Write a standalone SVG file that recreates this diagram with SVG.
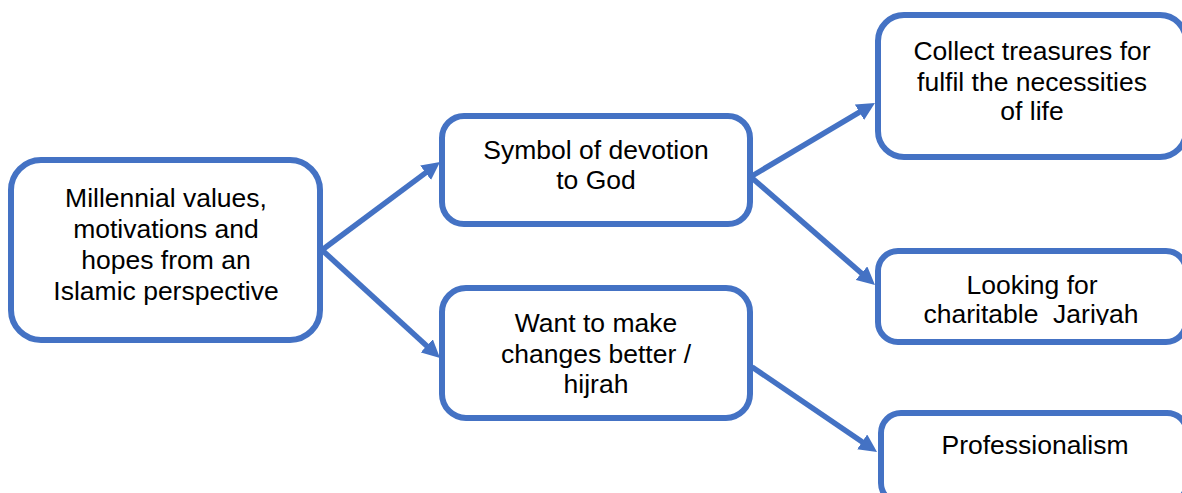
<svg xmlns="http://www.w3.org/2000/svg" width="1182" height="493" viewBox="0 0 1182 493">
<style>
.box{fill:#fff;stroke:#4472C4;stroke-width:6}
.lbl{font-family:"Liberation Sans",Arial,sans-serif;font-size:26.5px;fill:#000;text-anchor:middle}
.con{stroke:#4472C4;stroke-width:5.5;fill:none}
</style>
<defs>
<marker id="ah" markerUnits="userSpaceOnUse" markerWidth="18" markerHeight="18" refX="2" refY="9" orient="auto">
<path d="M0,0 L18,9 L0,18 z" fill="#4472C4"/>
</marker>
<clipPath id="clipJ"><rect x="880" y="254" width="300" height="71"/></clipPath>
</defs>
<rect width="1182" height="493" fill="#fff"/>
<g id="connectors">
<line class="con" x1="322" y1="250" x2="427.2" y2="171.6" marker-end="url(#ah)"/>
<line class="con" x1="322" y1="250" x2="428.2" y2="347.2" marker-end="url(#ah)"/>
<line class="con" x1="752" y1="176" x2="861.2" y2="111.2" marker-end="url(#ah)"/>
<line class="con" x1="752" y1="178" x2="862.9" y2="274.5" marker-end="url(#ah)"/>
<line class="con" x1="752" y1="367" x2="863.8" y2="443" marker-end="url(#ah)"/>
</g>
<g id="node-millennial">
<rect class="box" x="11" y="160" width="309" height="180" rx="30"/>
<text class="lbl"><tspan x="166" y="207">Millennial values,</tspan><tspan x="166" y="238">motivations and</tspan><tspan x="166" y="269">hopes from an</tspan><tspan x="166" y="300">Islamic perspective</tspan></text>
</g>
<g id="node-symbol">
<rect class="box" x="442" y="116" width="308" height="108" rx="22"/>
<text class="lbl"><tspan x="596" y="159">Symbol of devotion</tspan><tspan x="596" y="189">to God</tspan></text>
</g>
<g id="node-want">
<rect class="box" x="442" y="288" width="308" height="130" rx="24"/>
<text class="lbl"><tspan x="596" y="332">Want to make</tspan><tspan x="596" y="363">changes better /</tspan><tspan x="596" y="393">hijrah</tspan></text>
</g>
<g id="node-collect">
<rect class="box" x="878" y="15" width="308" height="142" rx="26"/>
<text class="lbl"><tspan x="1032" y="60">Collect treasures for</tspan><tspan x="1032" y="91">fulfil the necessities</tspan><tspan x="1032" y="120">of life</tspan></text>
</g>
<g id="node-looking">
<rect class="box" x="878" y="251" width="308" height="91" rx="20"/>
<text class="lbl" clip-path="url(#clipJ)" xml:space="preserve"><tspan x="1032" y="294">Looking for</tspan><tspan x="1031" y="323">charitable  Jariyah</tspan></text>
</g>
<g id="node-professionalism">
<rect class="box" x="881" y="413" width="306" height="90" rx="20"/>
<text class="lbl" x="1035" y="454">Professionalism</text>
</g>
</svg>
